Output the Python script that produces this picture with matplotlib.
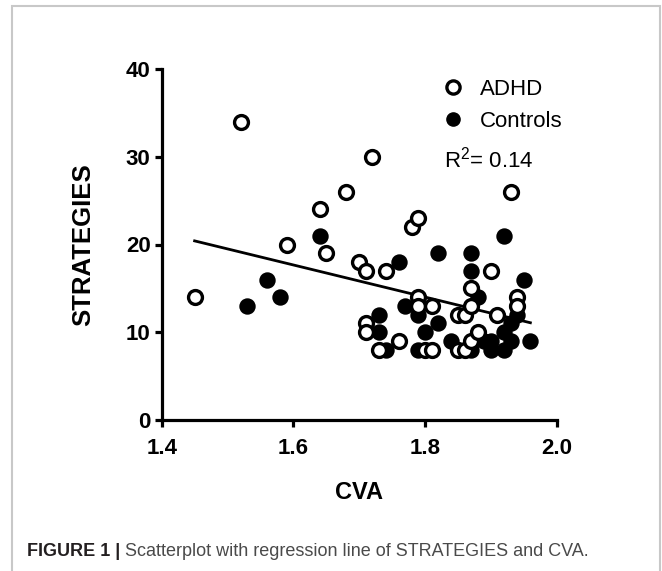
import numpy as np
import matplotlib
matplotlib.use("Agg")
import matplotlib.pyplot as plt
from matplotlib.lines import Line2D
from matplotlib.patches import Rectangle

# ADHD group (open circles): CVA, STRATEGIES
adhd_cva = [1.45, 1.52, 1.59, 1.64, 1.65, 1.68, 1.70, 1.71, 1.72, 1.74, 1.78, 1.79,
            1.93, 1.71, 1.71, 1.73, 1.76, 1.79, 1.79, 1.81, 1.80, 1.81, 1.85, 1.86,
            1.85, 1.86, 1.87, 1.87, 1.87, 1.88, 1.90, 1.91, 1.94, 1.94]
adhd_str = [14, 34, 20, 24, 19, 26, 18, 17, 30, 17, 22, 23,
            26, 11, 10, 8, 9, 14, 13, 13, 8, 8, 12, 12,
            8, 8, 15, 13, 9, 10, 17, 12, 14, 13]

# Controls (filled circles)
ctrl_cva = [1.53, 1.56, 1.58, 1.64, 1.76, 1.82, 1.92, 1.87, 1.87, 1.95, 1.88, 1.77,
            1.79, 1.82, 1.80, 1.73, 1.73, 1.74, 1.79, 1.84, 1.87, 1.89, 1.90, 1.90,
            1.92, 1.92, 1.93, 1.93, 1.94, 1.96]
ctrl_str = [13, 16, 14, 21, 18, 19, 21, 19, 17, 16, 14, 13,
            12, 11, 10, 12, 10, 8, 8, 9, 8, 9, 9, 8,
            8, 10, 9, 11, 12, 9]

x_ticks = [1.4, 1.6, 1.8, 2.0]
y_ticks = [0, 10, 20, 30, 40]
r2_label = "R$^2$= 0.14"

sans = ['Liberation Sans', 'DejaVu Sans']
plt.rcParams['mathtext.fontset'] = 'custom'
plt.rcParams['mathtext.rm'] = 'Liberation Sans'

W, H = 662, 571
fig = plt.figure(figsize=(W / 100, H / 100), dpi=100)
ax = fig.add_axes([161.7 / W, 1 - 420 / H, (556.7 - 161.7) / W, (420 - 69) / H])

# regression line over the pooled sample
all_x = np.array(adhd_cva + ctrl_cva)
all_y = np.array(adhd_str + ctrl_str)
slope, icpt = np.polyfit(all_x, all_y, 1)
xl = np.array([all_x.min(), all_x.max()])
ax.plot(xl, icpt + slope * xl, color='black', lw=2.0, zorder=1)

ax.scatter(ctrl_cva, ctrl_str, s=100, facecolor='black', edgecolor='black', lw=1.8, zorder=2)
ax.scatter(adhd_cva, adhd_str, s=100, facecolor='white', edgecolor='black', lw=2.4, zorder=3)

ax.set_xlim(1.4, 2.0)
ax.set_ylim(0, 40)
ax.set_xticks(x_ticks)
ax.set_xticklabels([f"{t:.1f}" for t in x_ticks])
ax.set_yticks(y_ticks)
for s in ['top', 'right']:
    ax.spines[s].set_visible(False)
for s in ['left', 'bottom']:
    ax.spines[s].set_linewidth(2.3)
    ax.spines[s].set_capstyle('projecting')
ax.tick_params(width=2.3, length=5, direction='out')
ax.tick_params(axis='x', pad=8)
ax.tick_params(axis='y', pad=3)
for lab in ax.get_xticklabels() + ax.get_yticklabels():
    lab.set_family(sans)
    lab.set_fontweight('bold')
    lab.set_fontsize(16)

ax.set_xlabel("CVA", family=sans, fontweight='bold', fontsize=17, labelpad=16)
ax.set_ylabel("STRATEGIES", family=sans, fontweight='bold', fontsize=18.5, labelpad=22)

handles = [Line2D([], [], ls='none', marker='o', ms=9.5, mfc='white', mec='black', mew=2.4),
           Line2D([], [], ls='none', marker='o', ms=9.5, mfc='black', mec='black')]
leg = ax.legend(handles, ["ADHD", "Controls"], loc='upper left', frameon=False,
                bbox_to_anchor=(442 / W, 1 - 79 / H), bbox_transform=fig.transFigure,
                prop={'family': sans, 'size': 16}, handletextpad=0.72,
                labelspacing=0.5, handlelength=1.0, borderpad=0, borderaxespad=0)
ax.text(444 / W, 1 - 160 / H, r2_label, transform=fig.transFigure, family=sans,
        fontsize=16, va='center', ha='left')

# figure frame and caption
fig.patches.append(Rectangle((12 / W, -0.05), (660 - 12) / W, 1.05 - 6 / H,
                             transform=fig.transFigure, fill=False,
                             edgecolor='#c8c8c8', lw=1.5))
t1 = fig.text(27 / W, 1 - 552 / H, "FIGURE 1 |", family=sans, fontweight='bold',
              fontsize=13, color='#231f20', va='center')
fig.canvas.draw()
bb = t1.get_window_extent()
fig.text((bb.x1 + 5) / W, 1 - 552 / H, "Scatterplot with regression line of STRATEGIES and CVA.",
         family=sans, fontsize=13, color='#4a4a4a', va='center')

fig.savefig("out.png", dpi=100)
